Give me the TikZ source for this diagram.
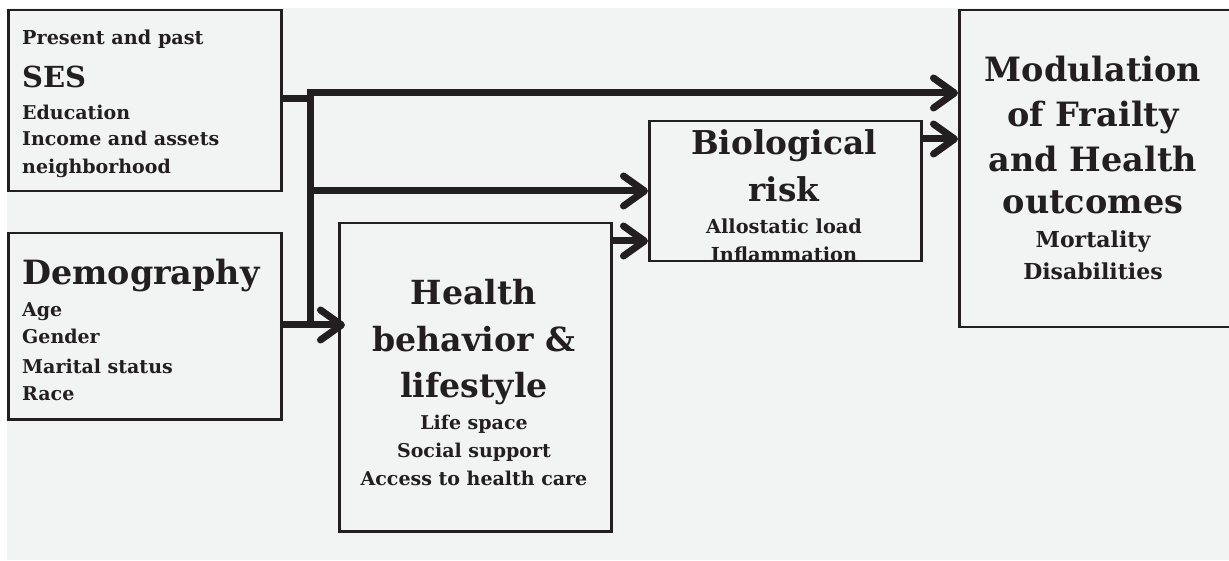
\documentclass[tikz,border=0pt]{standalone}
\usepackage{fontspec}
\setmainfont{DejaVu Serif}
\usetikzlibrary{arrows.meta}
\definecolor{bg}{HTML}{F2F3F3}
\definecolor{ink}{HTML}{231F20}
\begin{document}
\begin{tikzpicture}[x=1pt,y=-1pt,
  box/.style={draw=ink, line width=2.5pt, fill=bg, inner sep=0pt, anchor=north west},
  conn/.style={draw=ink, line width=7pt},
  arr/.style={conn, -{Straight Barb[length=21pt,width=30pt,round]}},
  tl/.style={font=\bfseries\fontsize{#1}{#1}\selectfont, text=ink, inner sep=0pt, anchor=base west},
  tc/.style={font=\bfseries\fontsize{#1}{#1}\selectfont, text=ink, inner sep=0pt, anchor=base}]
\useasboundingbox (0,0) rectangle (1229,561);
\fill[white] (0,0) rectangle (1229,561);
\fill[bg] (7,8) rectangle (1229,560);

% boxes
\node[box, minimum width=273pt, minimum height=181pt] (ses) at (7,9) {};
\node[box, minimum width=273pt, minimum height=186pt] (demo) at (7,232) {};
\node[box, minimum width=272pt, minimum height=308pt] (health) at (338,222) {};
\node[box, minimum width=272pt, minimum height=140pt] (bio) at (648,120) {};
\node[box, minimum width=271pt, minimum height=317pt] (mod) at (958,9) {};

% SES text
\node[tl=19.2] (s1) at (22,45) {Present and past};
\node[tl=29] (s2) at (22,88) {SES};
\node[tl=19] (s3) at (22,120) {Education};
\node[tl=19] (s4) at (22,146) {Income and assets};
\node[tl=19] (s5) at (22,174) {neighborhood};

% Demography text
\node[tl=33.4] (d1) at (22,285) {Demography};
\node[tl=19] (d2) at (22,317) {Age};
\node[tl=19] (d3) at (22,343) {Gender};
\node[tl=19] (d4) at (22,373) {Marital status};
\node[tl=19] (d5) at (22,400) {Race};

% Health text
\node[tc=33.2] (h1) at (474,305) {Health};
\node[tc=33.2] (h2) at (474,352) {behavior \&};
\node[tc=33.2] (h3) at (474,397) {lifestyle};
\node[tc=19] (h4) at (474,429) {Life space};
\node[tc=19] (h5) at (474,457) {Social support};
\node[tc=19] (h6) at (474,485) {Access to health care};

% Bio text
\node[tc=32.8] (b1) at (784,155) {Biological};
\node[tc=32.8] (b2) at (784,202) {risk};
\node[tc=19.3] (b3) at (784,234) {Allostatic load};
\begin{scope}
\clip (bio.north west) rectangle (bio.south east);
\node[tc=19.3] (b4) at (784,262) {Inflammation};
\end{scope}

% Modulation text
\node[tc=33.5] (m1) at (1093,82) {Modulation};
\node[tc=33.5] (m2) at (1093,127) {of Frailty};
\node[tc=33.5] (m3) at (1093,172) {and Health};
\node[tc=33.5] (m4) at (1093,214) {outcomes};
\node[tc=22] (m5) at (1093,248) {Mortality};
\node[tc=22] (m6) at (1093,280) {Disabilities};

% connectors
\coordinate (jtop) at (310,99);
\coordinate (jbot) at (310,325);
\coordinate (ktop) at (306.5,93);
\coordinate (kmid) at (310,191);
\coordinate (khb) at (0,241);
\coordinate (kbm) at (0,139);
\draw[conn] (ses.east |- jtop) -- (jtop) -- (jbot);
\draw[arr] (ktop) -- (mod.west |- ktop);
\draw[arr] (kmid) -- (bio.west |- kmid);
\draw[arr] (demo.east |- jbot) -- ([xshift=7pt]health.west |- jbot);
\draw[arr] (health.east |- khb) -- (bio.west |- khb);
\draw[arr] (bio.east |- kbm) -- (mod.west |- kbm);
\end{tikzpicture}
\end{document}
